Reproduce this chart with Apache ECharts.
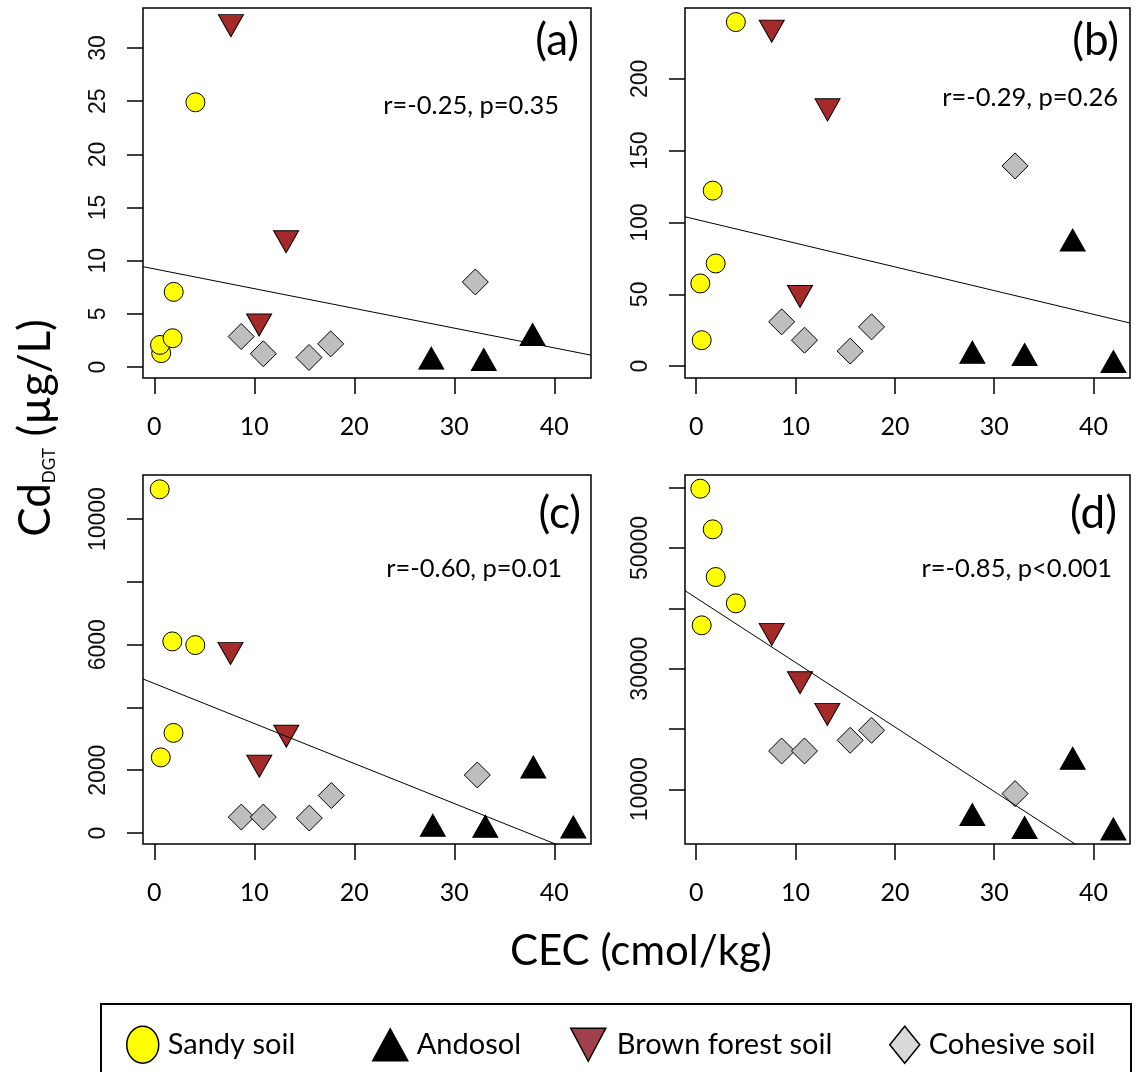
<!DOCTYPE html>
<html>
<head>
<meta charset="utf-8">
<title>Cd DGT vs CEC</title>
<script src="https://cdn.jsdelivr.net/npm/echarts@6/dist/echarts.min.js"></script>
<style>
  html, body { margin: 0; padding: 0; background: #fff; }
  #chart { width: 1139px; height: 1072px; }
</style>
</head>
<body>
<div id="chart"></div>
<script>
// [CEC, Cd_DGT] pairs
const aSandy = [[0.69, 1.31], [0.57, 2.08], [1.83, 2.71], [1.94, 7.07], [4.11, 24.9]];
const aAndosol = [[27.7, 0.49], [32.95, 0.37], [37.83, 2.71]];
const aBrown = [[7.66, 32.46], [13.18, 12.14], [10.48, 4.31]];
const aCohesive = [[8.69, 2.87], [10.9, 1.25], [15.47, 0.9], [17.64, 2.18], [32.1, 8.0]];

const bSandy = [[0.41, 57.6], [0.55, 18.1], [1.66, 122.2], [1.96, 71.5], [3.99, 239.5]];
const bAndosol = [[27.8, 7.2], [33.06, 5.6], [37.9, 85.2], [42.0, 0.7]];
const bBrown = [[7.6, 235.8], [13.22, 181.0], [10.45, 51.1]];
const bCohesive = [[8.6, 30.9], [10.9, 18.1], [15.5, 10.5], [17.65, 27.4], [32.1, 139.4]];

const cSandy = [[0.54, 10950], [0.65, 2408], [1.8, 6104], [1.92, 3189], [4.1, 5987]];
const cAndosol = [[27.85, 127], [33.1, 95], [37.9, 1985], [41.9, 74]];
const cBrown = [[7.62, 5840], [13.2, 3200], [10.5, 2249]];
const cCohesive = [[8.7, 507], [10.9, 507], [15.5, 475], [17.7, 1193], [32.3, 1848]];

const dSandy = [[0.41, 59834], [0.55, 37182], [1.66, 53094], [1.96, 45193], [3.99, 40829]];
const dAndosol = [[27.8, 5193], [33.06, 3039], [37.9, 14530], [42.0, 2818]];
const dBrown = [[7.6, 36298], [10.45, 28287], [13.2, 23039]];
const dCohesive = [[8.6, 16354], [10.9, 16354], [15.5, 18122], [17.65, 19779], [32.1, 9282]];

// regression lines y = b + m*x
const fitIntercept = [9.23, 102.15, 4763, 41721];
const fitSlope = [-0.1857, -1.651, -127.5, -1069.5];
const statText = ['r=-0.25, p=0.35', 'r=-0.29, p=0.26', 'r=-0.60, p=0.01', 'r=-0.85, p<0.001'];
const panelTags = ['(a)', '(b)', '(c)', '(d)'];

const xTicks = [0, 10, 20, 30, 40];
const yTicks = [
  [0, 5, 10, 15, 20, 25, 30],
  [0, 50, 100, 150, 200],
  [0, 2000, 4000, 6000, 8000, 10000],
  [10000, 20000, 30000, 40000, 50000, 60000]
];
const yTickLabels = [
  [0, 5, 10, 15, 20, 25, 30],
  [0, 50, 100, 150, 200],
  [0, 2000, 6000, 10000],
  [10000, 30000, 50000]
];
const xRange = [-1.13, 43.67];
const yRanges = [[-1.03, 33.77], [-8.2, 249.3], [-351, 11406], [931, 62105]];

const soilNames = ['Sandy soil', 'Andosol', 'Brown forest soil', 'Cohesive soil'];
const panelData = [
  [aSandy, aAndosol, aBrown, aCohesive],
  [bSandy, bAndosol, bBrown, bCohesive],
  [cSandy, cAndosol, cBrown, cCohesive],
  [dSandy, dAndosol, dBrown, dCohesive]
];

// look of each soil marker
const INV_TRI = 'path://M0,0L2,0L1,2Z';
const ELLIPSE = 'path://M0,1A1,1,0,1,1,2,1A1,1,0,1,1,0,1Z';
const marks = [
  { symbol: 'circle', size: 19, offset: [0, 0], color: '#FFFF00' },
  { symbol: 'triangle', size: [25, 22], offset: [0, -3.7], color: '#000000' },
  { symbol: INV_TRI, size: [25, 22], offset: [0, 3.7], color: '#A52A2A' },
  { symbol: 'diamond', size: [26, 26], offset: [0, 0], color: '#BEBEBE' }
];

const grids = [
  { left: 143, top: 8, width: 448, height: 370 },
  { left: 685, top: 8, width: 445, height: 370 },
  { left: 143, top: 475, width: 448, height: 369 },
  { left: 685, top: 475, width: 445, height: 369 }
];
const tagPos = [[579, 41], [1119, 41], [581, 514], [1117, 514]];
const statPos = [[559, 106], [1118, 98], [562, 569], [1112, 569]];

const myChart = echarts.init(document.getElementById('chart'));

const xAxis = grids.map((g, i) => ({
  type: 'value',
  gridIndex: i,
  min: xRange[0],
  max: xRange[1],
  axisLine: { show: false, onZero: false },
  axisTick: { show: true, inside: false, length: 16, customValues: xTicks,
    lineStyle: { color: '#000', width: 1.5 } },
  axisLabel: { customValues: xTicks, margin: 36, fontFamily: 'Lato', fontSize: 25, color: '#000',
    formatter: (v) => String(v) },
  splitLine: { show: false }
}));

const yAxis = grids.map((g, i) => ({
  type: 'value',
  gridIndex: i,
  min: yRanges[i][0],
  max: yRanges[i][1],
  axisLine: { show: false, onZero: false },
  axisTick: { show: true, inside: false, length: 16, customValues: yTicks[i],
    lineStyle: { color: '#000', width: 1.5 } },
  axisLabel: { customValues: yTickLabels[i], rotate: 90, margin: 33,
    fontFamily: 'Liberation Sans', fontSize: 23, color: '#111',
    formatter: (v) => String(v) },
  splitLine: { show: false }
}));

let series = [];
panelData.forEach((sets, p) => {
  sets.forEach((pts, s) => {
    series.push({
      type: 'scatter',
      name: soilNames[s],
      xAxisIndex: p,
      yAxisIndex: p,
      data: pts,
      symbol: marks[s].symbol,
      symbolSize: marks[s].size,
      symbolOffset: marks[s].offset,
      symbolKeepAspect: false,
      itemStyle: { color: marks[s].color, borderColor: '#000', borderWidth: 1, opacity: 1 },
      z: 3,
      silent: true
    });
  });
  series.push({
    type: 'line',
    name: 'fit ' + panelTags[p],
    xAxisIndex: p,
    yAxisIndex: p,
    data: xRange.map((x) => [x, fitIntercept[p] + fitSlope[p] * x]),
    symbol: 'none',
    lineStyle: { color: '#000', width: 1 },
    clip: true,
    z: 4,
    silent: true
  });
});

// legend: one component per entry so each can sit where the original does
const legendIcons = [ELLIPSE, 'triangle', INV_TRI, 'diamond'];
const legendColors = ['#FFFF00', '#000000', '#A0404A', '#D9D9D9'];
const legendLeft = [121, 367, 565, 884];
const legendSize = [[32, 37], [35, 32], [35, 33], [30, 37]];
const legendPad = [4, 4, 6, 4];
const legend = soilNames.map((name, i) => ({
  left: legendLeft[i],
  top: 1039 - legendSize[i][1] / 2,
  itemWidth: legendSize[i][0],
  itemHeight: legendSize[i][1],
  symbolKeepAspect: false,
  selectedMode: false,
  data: [{ name: name, icon: legendIcons[i],
    itemStyle: { color: legendColors[i], borderColor: '#000', borderWidth: 1.5 } }],
  textStyle: { fontFamily: 'Lato', fontSize: 29, color: '#000', padding: [0, 0, 0, legendPad[i]] }
}));

let graphic = [
  {
    type: 'text',
    x: 36,
    y: 428,
    rotation: Math.PI / 2,
    style: {
      text: '{m|Cd}{s|DGT}{m| (µg/L)}',
      align: 'center',
      verticalAlign: 'middle',
      rich: {
        m: { fontFamily: 'Lato', fontSize: 44, color: '#000' },
        s: { fontFamily: 'Lato', fontSize: 17, color: '#000', verticalAlign: 'bottom' }
      }
    }
  },
  {
    type: 'text',
    x: 641,
    y: 951,
    style: { text: 'CEC (cmol/kg)', fontFamily: 'Lato', fontSize: 42, fill: '#000',
      align: 'center', verticalAlign: 'middle' }
  },
  {
    type: 'rect',
    shape: { x: 101, y: 1004, width: 1030, height: 90 },
    style: { fill: 'none', stroke: '#000', lineWidth: 2 }
  }
];
panelTags.forEach((t, i) => {
  graphic.push({
    type: 'text', x: tagPos[i][0], y: tagPos[i][1],
    style: { text: t, fontFamily: 'Lato', fontSize: 44, fill: '#000', align: 'right', verticalAlign: 'middle' }
  });
  graphic.push({
    type: 'text', x: statPos[i][0], y: statPos[i][1],
    style: { text: statText[i], fontFamily: 'Lato', fontSize: 25.5, fill: '#000', align: 'right', verticalAlign: 'middle' }
  });
});

const option = {
  animation: false,
  backgroundColor: '#fff',
  grid: grids.map((g) => Object.assign({ show: true, borderColor: '#000', borderWidth: 1.5, containLabel: false }, g)),
  xAxis: xAxis,
  yAxis: yAxis,
  legend: legend,
  graphic: graphic,
  series: series
};
myChart.setOption(option);
</script>
</body>
</html>
